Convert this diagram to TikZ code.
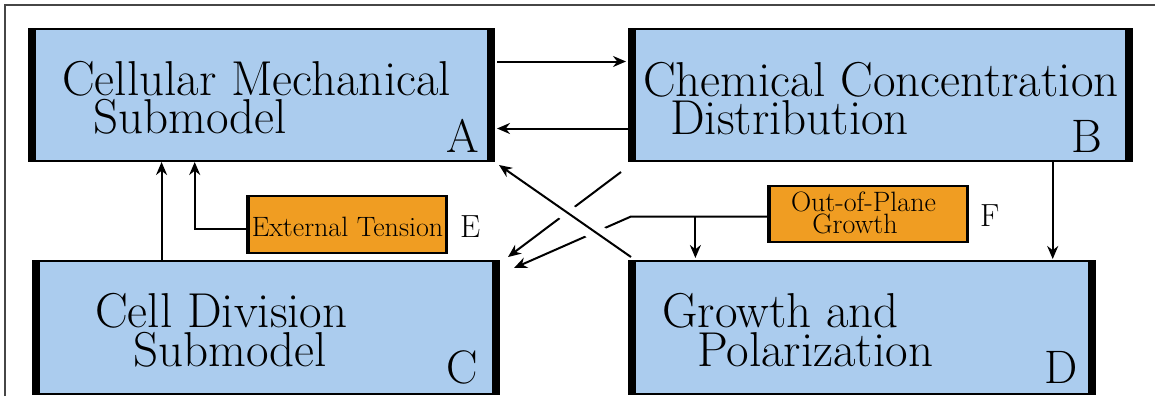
\documentclass[tikz,border=0pt]{standalone}
\usepackage{fontspec}
\usetikzlibrary{arrows.meta,calc}
\definecolor{boxblue}{RGB}{171,204,238}
\definecolor{boxorange}{RGB}{240,157,34}
\definecolor{framecol}{RGB}{70,70,70}
\tikzset{
  sidebars/.style={path picture={\draw[line width=#1]
      (path picture bounding box.north west) -- (path picture bounding box.south west)
      (path picture bounding box.north east) -- (path picture bounding box.south east);}},
  bigbox/.style={draw=black, line width=2pt, fill=boxblue, inner sep=0pt, sidebars=14pt},
  smallbox/.style={draw=black, line width=2pt, fill=boxorange, inner sep=0pt, sidebars=5pt},
  bigtext/.style={font=\fontsize{49}{40}\selectfont, inner sep=0pt, anchor=base west},
  boxtag/.style={font=\fontsize{47}{40}\selectfont, inner sep=0pt, anchor=base west},
  smalltext/.style={font=\fontsize{28}{21}\selectfont, inner sep=0pt, anchor=base},
  tag/.style={font=\fontsize{32}{30}\selectfont, inner sep=0pt, anchor=base west},
  arr/.style={line width=2pt, -{Stealth[length=13pt,width=11pt]}},
}
\begin{document}
\begin{tikzpicture}[x=1pt,y=-1pt]
\useasboundingbox (0,0) rectangle (1155,396);
\draw[framecol, line width=1.2pt] (5,396) -- (5,5) -- (1155,5);

% main boxes
\node[bigbox, minimum width=465pt, minimum height=132pt] (A) at (261.5,95) {};
\node[bigbox, minimum width=503pt, minimum height=132pt] (B) at (880.5,95) {};
\node[bigbox, minimum width=466pt, minimum height=133pt] (C) at (266,327.5) {};
\node[bigbox, minimum width=466pt, minimum height=133pt] (D) at (862,327.5) {};
% small boxes
\node[smallbox, minimum width=200pt, minimum height=57pt] (E) at (347,224.5) {};
\node[smallbox, minimum width=200pt, minimum height=56pt] (F) at (868,214) {};

% texts
\node[bigtext] (tA1) at (62,95) {Cellular Mechanical};
\node[bigtext] (tA2) at (93,133) {Submodel};
\node[boxtag] (lA) at (446,152) {A};
\node[bigtext] (tB1) at (643,96) {Chemical Concentration};
\node[bigtext] (tB2) at (670,134) {Distribution};
\node[boxtag] (lB) at (1071,152) {B};
\node[bigtext] (tC1) at (95,327) {Cell Division};
\node[bigtext] (tC2) at (133,366) {Submodel};
\node[boxtag] (lC) at (446,383) {C};
\node[bigtext] (tD1) at (662,327) {Growth and};
\node[bigtext] (tD2) at (697,366) {Polarization};
\node[boxtag] (lD) at (1044,383) {D};
\node[smalltext] (tE) at (347.5,236) {External Tension};
\node[smalltext] (tF1) at (863.5,211) {Out-of-Plane};
\node[smalltext] (tF2) at (855,233) {Growth};
\node[tag] (lE) at (460,237) {E};
\node[tag] (lF) at (980,226) {F};

% A <-> B
\coordinate (a1) at ($(A.north east)!0.25!(A.south east)$);
\coordinate (b1) at ($(B.north west)!0.25!(B.south west)$);
\draw[arr, shorten <=2pt, shorten >=2pt] (a1) -- (b1);
\coordinate (b2) at ($(B.north west)!0.75!(B.south west)$);
\draw[arr, shorten >=2pt] (b2) -- (b2 -| A.east);

% C -> A
\coordinate (a3) at ($(A.south west)!0.286!(A.south east)$);
\draw[arr] (a3 |- C.north) -- (a3);
% E -> A
\coordinate (a4) at ($(A.south west)!0.357!(A.south east)$);
\draw[arr] ($(E.west)+(0,4.5)$) -| (a4);
% B -> D
\coordinate (b5) at ($(B.south west)!0.841!(B.south east)$);
\draw[arr, shorten >=1pt] (b5) -- (b5 |- D.north);

% B -> C
\coordinate (b7) at ($(B.south west)+(-7,10)$);
\coordinate (c7) at ($(C.north east)+(8,-3)$);
\draw[arr] (b7) -- (c7);
% F -> C
\coordinate (f8) at ($(D.north west |- F.west)+(3,2.5)$);
\coordinate (c8) at ($(C.north east)+(14,8)$);
\draw[arr] ($(F.west)+(0,2.5)$) -- (f8) -- (c8);
% F -> D
\coordinate (d9) at ($(D.north west)!0.144!(D.north east)$);
\draw[arr, shorten >=2pt] (d9 |- f8) -- (d9);

% D -> A (crossing over, with gaps)
\coordinate (d6) at ($(D.north west)+(3,-3)$);
\coordinate (a6) at ($(A.south east)+(4,3)$);
\draw[white, line width=18pt] ($(d6)!30pt!(a6)$) -- ($(d6)!92pt!(a6)$);
\draw[arr] (d6) -- (a6);
\end{tikzpicture}
\end{document}
